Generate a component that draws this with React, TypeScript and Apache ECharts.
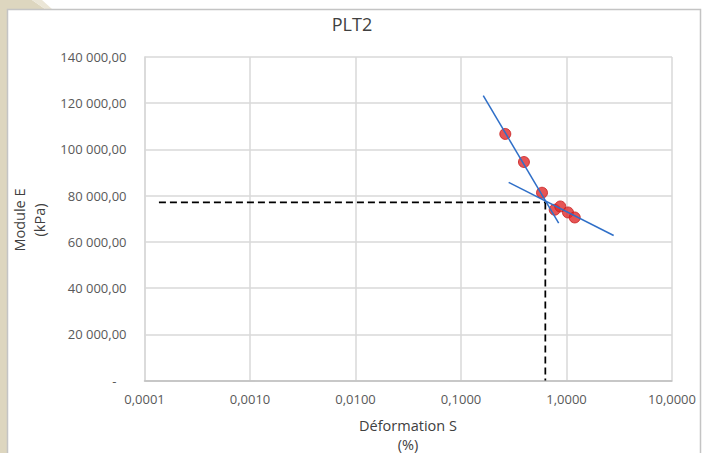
import React, { useEffect, useRef } from "react";
import * as echarts from "echarts";

// Measured points (strain %, modulus kPa)
const strainPts = [0.263, 0.395, 0.586, 0.773, 0.873, 1.033, 1.197];
const modulusPts = [106700, 94550, 81260, 73900, 75320, 72730, 70560];

// Fit line 1 (steep)
const fit1Strain = [0.1626, 0.843];
const fit1Modulus = [123250, 68140];

// Fit line 2 (shallow)
const fit2Strain = [0.283, 2.8];
const fit2Modulus = [85710, 62770];

// Reference dashed lines
const refStartStrain = 0.000137;
const refStrain = 0.63;
const refModulus = 77060;

const xTicks = [0.0001, 0.001, 0.01, 0.1, 1, 10];
const yMin = 0;
const yMax = 140000;
const yStep = 20000;

const fmtY = (v: number) =>
  v === 0
    ? "-   "
    : Math.round(v).toString().replace(/\B(?=(\d{3})+(?!\d))/g, " ") + ",00";
const fmtX = (v: number) => v.toFixed(4).replace(".", ",");

const FONT = "'Open Sans', 'Noto Sans', sans-serif";

export default function App() {
  const ref = useRef<HTMLDivElement>(null);
  useEffect(() => {
    const chart = echarts.init(ref.current!, undefined, { renderer: "svg" });
    chart.setOption({
      animation: false,
      backgroundColor: "#ffffff",
      textStyle: { fontFamily: FONT },
      graphic: [
        {
          type: "polygon",
          silent: true,
          z: -10,
          shape: {
            points: [
              [0, 0],
              [32, 0],
              [45, 9],
              [7, 9],
              [7, 453],
              [0, 453],
            ],
          },
          style: { fill: "#ddd6bf" },
        },
        {
          type: "polygon",
          silent: true,
          z: -10,
          shape: { points: [[32, 0], [42, 0], [52, 9], [45, 9]] },
          style: { fill: "#ebe6d7" },
        },
        {
          type: "rect",
          silent: true,
          z: -9,
          shape: { x: 7.5, y: 9.5, width: 693, height: 460 },
          style: { fill: "#ffffff", stroke: "#c4c4c4", lineWidth: 1.5 },
        },
        {
          type: "text",
          x: 352,
          y: 24,
          style: {
            text: "PLT2",
            fontSize: 18,
            fontFamily: FONT,
            fill: "#404040",
            textAlign: "center",
            textVerticalAlign: "middle",
          },
        },
        {
          type: "text",
          x: 29.5,
          y: 220,
          rotation: Math.PI / 2,
          style: {
            text: "Module E\n(kPa)",
            fontSize: 14.5,
            lineHeight: 20,
            fontFamily: FONT,
            fill: "#404040",
            textAlign: "center",
            textVerticalAlign: "middle",
          },
        },
        {
          type: "text",
          x: 408,
          y: 435,
          style: {
            text: "Déformation S\n(%)",
            fontSize: 14.5,
            lineHeight: 19,
            fontFamily: FONT,
            fill: "#404040",
            textAlign: "center",
            textVerticalAlign: "middle",
          },
        },
      ],
      grid: { left: 144.5, right: 32, top: 57, bottom: 72.5 },
      xAxis: {
        type: "log",
        logBase: 10,
        min: xTicks[0],
        max: xTicks[xTicks.length - 1],
        axisLine: { show: true, lineStyle: { color: "#bfbfbf", width: 1.5 } },
        axisTick: { show: false },
        splitLine: { show: true, lineStyle: { color: "#d9d9d9", width: 1.5 } },
        minorTick: { show: false },
        axisLabel: {
          formatter: (v: number) => fmtX(v),
          color: "#595959",
          fontSize: 13,
          fontFamily: FONT,
          margin: 12,
        },
      },
      yAxis: {
        type: "value",
        min: yMin,
        max: yMax,
        interval: yStep,
        axisLine: { show: true, lineStyle: { color: "#d9d9d9", width: 1.5 } },
        axisTick: { show: false },
        splitLine: { show: true, lineStyle: { color: "#d9d9d9", width: 1.5 } },
        axisLabel: {
          formatter: (v: number) => fmtY(v),
          color: "#595959",
          fontSize: 13,
          fontFamily: FONT,
          margin: 18,
        },
      },
      series: [
        {
          type: "line",
          data: [
            [refStartStrain, refModulus],
            [refStrain, refModulus],
          ],
          symbol: "none",
          lineStyle: { color: "#000000", width: 1.75, type: [7, 4] },
          z: 3,
        },
        {
          type: "line",
          data: [
            [refStrain, refModulus],
            [refStrain, yMin],
          ],
          symbol: "none",
          lineStyle: { color: "#000000", width: 1.75, type: [7, 4] },
          z: 3,
        },
        {
          type: "scatter",
          data: strainPts.map((s, i) => [s, modulusPts[i]]),
          symbol: "circle",
          symbolSize: 11,
          itemStyle: { color: "#e02a2a", borderColor: "#c81e1e", borderWidth: 1 },
          z: 4,
        },
        {
          type: "line",
          data: fit1Strain.map((s, i) => [s, fit1Modulus[i]]),
          symbol: "none",
          lineStyle: { color: "#2f6fc8", width: 1.5 },
          z: 5,
        },
        {
          type: "line",
          data: fit2Strain.map((s, i) => [s, fit2Modulus[i]]),
          symbol: "none",
          lineStyle: { color: "#2f6fc8", width: 1.5 },
          z: 5,
        },
      ],
    });
    return () => chart.dispose();
  }, []);
  return (
    <div
      ref={ref}
      style={{ position: "fixed", left: 0, top: 0, width: 704, height: 453 }}
    />
  );
}
